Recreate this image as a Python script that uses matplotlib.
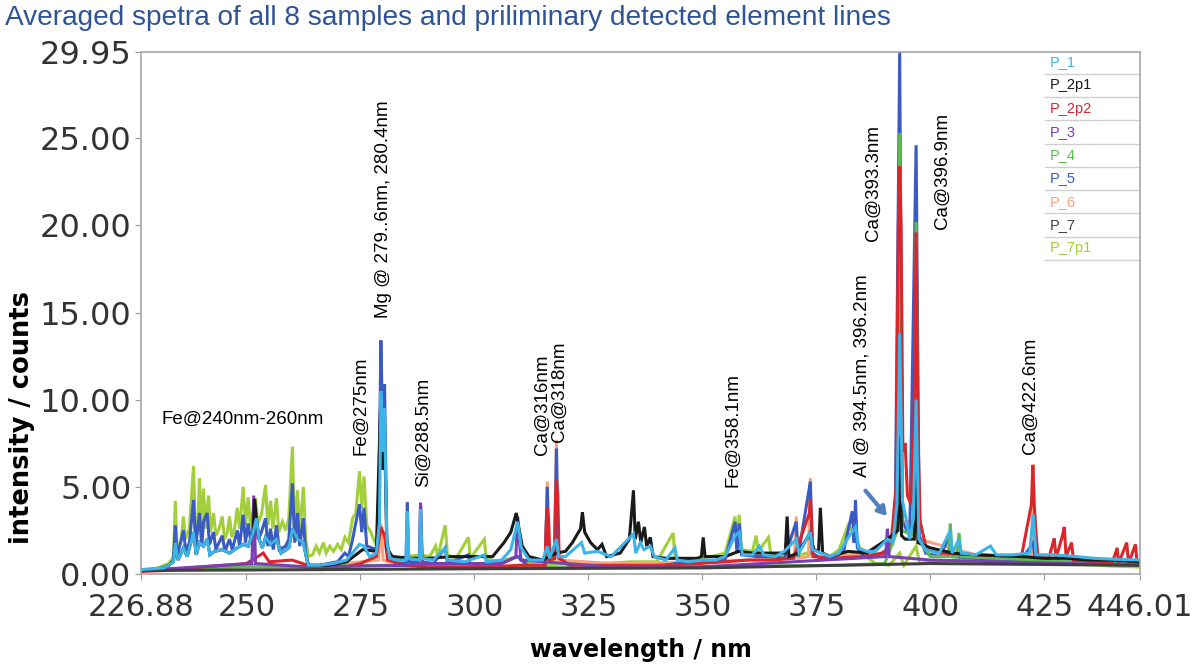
import matplotlib
matplotlib.use("Agg")
import matplotlib.pyplot as plt

# averaged LIBS spectra, wavelength (nm) / intensity (counts) per sample
p7p1_wl = [226.9, 230, 233, 234.0, 234.4, 234.8, 235.6, 236.2, 236.6, 237.5, 238.4, 238.8, 239.4, 239.7,
           240.1, 240.6, 241.0, 241.7, 242.1, 242.8, 243.3, 244.0, 244.7, 245.2, 245.8, 246.3, 246.8,
           247.4, 248.0, 248.5, 249.3, 249.8, 250.4, 250.9, 251.5, 252.0, 252.5, 253.3, 254.2, 254.7,
           255.3, 255.8, 256.6, 257.1, 257.9, 258.6, 259.3, 260.1, 260.5, 261.2, 261.7, 262.5, 263.0,
           263.6, 264.5, 265.3, 266.0, 266.9, 267.5, 268.3, 269.1, 270.0, 270.8, 271.6, 272.4, 273.3,
           274.0, 274.8, 275.3, 275.8, 276.4, 277.3, 278.2, 279.4, 280.3, 281.2, 283, 285.3, 288.2,
           290.2, 291.5, 292, 293.6, 294.1, 296, 298.7, 299.1, 302.2, 302.6, 305, 309.5, 312, 315, 318,
           322, 328, 334.5, 340, 343.6, 344.0, 346, 349, 352, 355, 357.2, 357.6, 358.1, 358.6, 361,
           361.8, 362.3, 364.5, 365, 368, 370, 373, 375, 378, 380, 382, 383.5, 385, 388, 391, 393.3,
           394.2, 396.9, 397.7, 400, 405, 410, 420, 430, 440, 446]
p7p1_int = [0.25, 0.3, 0.6, 1.0, 4.2, 1.5, 1.8, 3.3, 2.0, 2.6, 6.2, 2.5, 3.0, 5.5,
            2.8, 4.9, 2.6, 4.5, 2.4, 3.5, 2.2, 2.6, 3.3, 2.0, 2.4, 3.3, 2.1,
            2.6, 3.8, 2.6, 5.0, 2.8, 4.4, 2.7, 3.6, 4.35, 2.9, 3.4, 5.1, 2.8,
            4.2, 2.6, 4.35, 2.4, 3.0, 2.5, 3.2, 7.3, 2.6, 4.8, 2.4, 5.0, 2.0,
            1.0, 1.1, 1.6, 1.2, 1.8, 1.2, 1.6, 1.3, 1.7, 1.4, 2.1, 1.8, 3.2,
            3.5, 5.9, 3.8, 5.6, 2.8, 2.4, 1.8, 2.3, 2.2, 1.1, 0.9, 1.0, 1.1,
            1.0, 1.6, 1.0, 2.8, 1.1, 0.9, 2.1, 0.9, 2.0, 0.9, 0.7, 1.0, 0.6, 0.5, 0.6,
            0.6, 0.6, 0.7, 0.7, 2.35, 0.9, 0.8, 0.9, 1.0, 1.2, 3.3, 1.6, 3.4, 1.4, 1.3,
            2.2, 1.3, 2.1, 1.2, 1.0, 1.0, 1.2, 1.0, 1.0, 1.4, 2.8, 2.2, 1.2, 0.6, 0.5, 1.2,
            0.5, 1.6, 0.6, 0.7, 0.8, 0.8, 0.7, 0.6, 0.45, 0.4]

p4_wl = [226.9, 250, 280, 300, 340, 380, 390, 392.8, 393.3, 393.8, 396.4, 396.9,
         397.4, 400, 404.0, 404.4, 404.8, 405.9, 406.3, 406.8, 446]
p4_int = [0.2, 0.4, 0.5, 0.4, 0.4, 0.5, 0.6, 2.5, 25.3, 2.5, 2.2, 20.2,
          2.0, 1.0, 1.0, 2.9, 1.0, 1.0, 2.35, 1.0, 0.5]

p6_wl = [226.9, 250, 263.5, 279.0, 279.5, 280.0, 281, 300, 315.6, 316.0, 316.4, 317.6, 318.0, 318.4,
         330, 350, 370.2, 370.6, 371.0, 373.3, 373.7, 374.1, 390, 392.8, 393.3, 393.8, 396.4, 396.9,
         397.4, 410, 422.2, 422.6, 423.0, 446]
p6_int = [0.2, 0.5, 0.4, 0.8, 2.9, 0.8, 0.7, 0.5, 0.5, 5.3, 0.7, 0.7, 7.7, 0.8,
          0.6, 0.7, 0.9, 3.3, 0.9, 1.0, 5.5, 1.0, 1.2, 2.5, 23.6, 3.0, 3.0, 19.8,
          2.0, 1.1, 1.0, 6.3, 1.0, 0.7]

p2p2_wl = [226.9, 232, 236, 240, 245, 250, 252.5, 253.7, 255, 260, 263.5, 266, 270, 275, 278.5,
           279.5, 280.3, 281, 285, 290, 300, 305, 310, 315.5, 315.8, 316.0, 316.3, 316.6, 317.6,
           317.8, 318.0, 318.3, 318.6, 321, 330, 340, 349, 355, 360, 365, 370, 373.5, 373.7, 374.0,
           374.3, 378, 385, 390, 391.5, 392.5, 393.0, 393.3, 393.6, 394.0, 394.5, 395.0, 395.8,
           396.4, 396.9, 397.3, 397.8, 399, 402, 410, 420, 422.2, 422.5, 422.8, 423.2, 423.6, 426,
           427.2, 427.6, 429.0, 429.4, 429.8, 431.0, 431.4, 436, 440, 441.0, 441.3, 443.1, 443.5,
           445.0, 445.4, 446]
p2p2_int = [0.15, 0.2, 0.3, 0.4, 0.5, 0.6, 1.0, 1.2, 0.7, 0.8, 0.5, 0.25, 0.3, 0.6, 1.0,
            2.7, 2.2, 0.8, 0.5, 0.4, 0.4, 0.4, 0.5, 0.5, 3.0, 3.8, 3.0, 0.8, 0.9,
            4.5, 5.4, 4.6, 0.9, 0.5, 0.5, 0.5, 0.6, 0.7, 0.8, 0.8, 0.9, 3.5, 4.3, 3.0,
            1.0, 0.9, 1.0, 1.2, 2.0, 5.0, 20.0, 23.4, 20.0, 7.0, 7.5, 4.5, 4.0,
            8.0, 19.6, 8.0, 3.0, 1.6, 1.2, 1.1, 1.0, 4.0, 6.25, 4.0, 2.4, 1.0, 0.9,
            2.05, 0.9, 2.2, 2.7, 1.0, 1.8, 0.8, 0.7, 0.7, 1.5, 0.6, 1.8, 0.6,
            1.7, 0.6, 0.6]

p3_wl = [226.9, 245, 251.2, 251.6, 252.0, 258, 263.5, 285, 287.9, 288.2, 288.6, 306, 309.1, 309.5,
         310.2, 330, 349, 370, 390.2, 390.6, 391, 400, 446]
p3_int = [0.2, 0.5, 0.6, 4.5, 0.6, 0.5, 0.4, 0.5, 0.6, 4.1, 0.6, 0.6, 1.0, 3.3,
          0.8, 0.4, 0.4, 0.7, 1.0, 2.6, 1.0, 0.8, 0.5]

p2p1_wl = [226.9, 232, 234, 234.4, 235, 236.2, 237, 238.4, 239, 239.7, 240.6, 241.4, 242, 243,
           244.7, 246.3, 248, 249.3, 250.4, 251.5, 251.8, 252.2, 252.8, 253.5, 254.2, 255.3, 256.6,
           257.6, 259.3, 260.1, 261.2, 262.5, 263.2, 263.6,
           268, 272, 275.5, 278.5, 279.5, 279.9, 280.3, 280.8, 282, 286, 290, 295, 300, 304, 306.5,
           308, 309.2, 309.8, 310.5, 312, 315, 318, 320, 321.5, 323.3, 323.7, 324.2, 325.5, 327,
           328, 329, 332, 334.0, 334.9, 335.3, 336.0, 336.5, 337.3, 337.8, 338.6, 339.2, 342, 345,
           349, 349.8, 350.2, 350.6, 355, 358, 361, 364, 368.2, 368.6, 369.0, 371, 373.5, 374.5,
           375.5, 375.9, 376.4, 378, 382, 386, 390.6, 392.9, 393.3, 393.7, 394.5, 396.5, 396.9,
           397.3, 400, 405, 410, 420, 425, 430, 435, 440, 446]
p2p1_int = [0.2, 0.35, 0.7, 1.8, 0.8, 1.5, 1.0, 2.4, 1.1, 1.8, 1.6, 2.0, 1.1, 1.3,
            1.4, 1.2, 1.5, 1.7, 1.6, 2.4, 4.3, 3.2, 2.0, 1.5, 2.1, 1.7, 2.0,
            1.2, 1.5, 2.6, 2.0, 1.8, 0.9, 0.5,
            0.5, 0.7, 1.4, 1.3, 10.4, 6.0, 8.4, 1.5, 1.0, 0.9, 0.9, 1.0, 1.0, 1.0, 1.8,
            2.4, 3.5, 2.6, 1.6, 1.0, 0.8, 1.2, 1.3, 1.8, 2.6, 3.55, 2.4, 1.8, 1.4,
            1.7, 1.0, 1.2, 2.0, 4.8, 2.0, 3.0, 1.8, 2.7, 1.6, 2.1, 1.0, 0.9, 0.9,
            0.9, 1.0, 2.1, 1.0, 1.0, 1.3, 1.2, 1.2, 1.2, 3.3, 1.0, 1.2, 2.3, 1.4,
            1.3, 3.8, 1.2, 1.0, 1.3, 1.2, 2.0, 2.5, 8.0, 2.2, 2.0, 2.0, 6.0,
            1.8, 1.5, 1.2, 1.1, 1.0, 0.9, 0.9, 0.8, 0.8, 0.7]

p7_wl = [226.9, 300, 350, 400, 446]
p7_int = [0.2, 0.3, 0.35, 0.6, 0.5]

p5_wl = [226.9, 231, 233, 234.0, 234.4, 234.8, 236.2, 236.7, 237.5, 238.4, 238.9, 239.7, 240.2,
         240.6, 241.4, 241.9, 242.8, 243.3, 244.7, 245.3, 246.3, 246.9, 248.0, 248.5, 249.3, 249.8,
         250.4, 251.0, 252.0, 252.6, 253.3, 254.2, 254.7, 255.3, 255.9, 256.6, 257.2, 258.6, 259.3,
         260.1, 260.6, 261.2, 261.7, 262.5, 263.0, 263.6, 266, 268, 270, 271.6, 272.4, 273.3,
         274.8, 275.3, 275.8, 276.4, 277.5, 278.5, 279.0, 279.5, 279.9, 280.3, 280.8, 281.5, 283,
         285.0, 285.3, 285.6, 288.0, 288.2, 288.5, 291, 293.6, 294.1, 298.7, 299.1, 302, 305,
         309.5, 312, 315.5, 316.0, 316.4, 317.6, 318.0, 318.4, 321, 328, 335, 340, 344, 349, 355,
         357.2, 357.6, 358.1, 358.6, 362, 365, 368, 370.6, 371, 373.7, 374.1, 376, 379, 381,
         382.9, 383.3, 383.6, 384.0, 385.5, 388, 390.6, 392.3, 393.3, 393.9, 395.5, 396.9, 397.6,
         399, 402, 404.4, 404.8, 410, 420, 422.6, 423, 430, 440, 446]
p5_int = [0.2, 0.25, 0.5, 0.8, 2.8, 1.0, 2.5, 1.3, 1.8, 4.25, 1.6, 3.5, 1.6,
          3.0, 3.5, 1.7, 2.4, 1.4, 2.2, 1.3, 2.0, 1.4, 2.5, 1.6, 3.4, 1.8,
          2.9, 1.8, 3.0, 2.0, 2.4, 3.2, 1.6, 2.6, 1.4, 2.8, 1.4, 1.6, 2.0,
          5.2, 1.8, 3.5, 1.6, 3.2, 1.2, 0.5, 0.5, 0.6, 0.7, 1.2, 1.0, 2.0,
          4.0, 2.4, 3.8, 1.6, 1.5, 1.4, 3.0, 13.4, 8.0, 10.9, 2.0, 0.8, 0.6,
          0.6, 4.1, 0.7, 0.7, 3.95, 0.7, 0.6, 1.5, 0.6, 1.1, 0.5, 0.5, 0.5,
          1.0, 0.4, 0.4, 5.0, 0.8, 0.9, 7.2, 1.0, 0.4, 0.4, 0.4, 0.4, 0.6, 0.6, 0.8,
          3.0, 1.2, 2.9, 1.1, 1.0, 1.0, 0.9, 3.0, 1.0, 5.3, 1.2, 0.9, 1.0, 1.3,
          3.6, 1.8, 4.25, 1.5, 1.0, 1.0, 1.4, 2.5, 29.95, 3.0, 2.2, 24.6, 2.2,
          1.2, 1.0, 2.2, 1.0, 0.9, 0.8, 1.8, 0.8, 0.7, 0.6, 0.55]

p1_wl = [226.9, 232, 234, 234.4, 235, 236.2, 237, 238.4, 239, 239.7, 240.6, 241.4, 242, 243, 244.7,
         246.3, 248, 249.3, 250.4, 251.5, 252.2, 252.8, 253.5, 254.2, 255.3, 256.6, 257.6, 259.3,
         260.1, 261.2, 262.5, 263.2, 263.6, 266, 269, 272, 274.8, 275.8, 277, 278.5, 279.2, 279.5,
         279.9, 280.3, 280.8, 281.5, 283, 285.0, 285.3, 285.6, 288.0, 288.2, 288.5, 291, 293.6,
         294.1, 298, 302.2, 302.6, 306, 308, 309.5, 310.3, 312, 315, 316.0, 316.5, 318.0, 318.5,
         320, 323.5, 324.2, 327, 330, 334.9, 335.4, 336.4, 337.2, 338.6, 339.5, 342, 344.0, 344.5,
         347, 350, 353, 355, 357.2, 358.1, 358.8, 361, 362.5, 363.5, 366, 368, 370.6, 371.2, 373.7,
         374.2, 376, 378, 380, 382.3, 383.6, 384.3, 386, 388, 390.6, 391.8, 392.7, 393.3, 393.9,
         394.6, 395.5, 396.3, 396.9, 397.5, 399, 402, 404.4, 404.8, 406.3, 406.8, 410, 413.2,
         414.5, 418, 421.8, 422.6, 423.2, 427, 432, 436, 440, 446]
p1_int = [0.25, 0.35, 0.7, 1.8, 0.8, 1.5, 1.0, 2.4, 1.1, 1.8, 1.6, 2.0, 1.1, 1.3, 1.4,
          1.2, 1.5, 1.7, 1.6, 2.4, 3.2, 2.0, 1.5, 2.1, 1.7, 2.0, 1.2, 1.5,
          2.6, 2.0, 1.8, 0.9, 0.5, 0.5, 0.6, 0.8, 1.7, 1.6, 1.0, 1.2, 3.0, 10.5,
          7.0, 9.5, 1.8, 0.9, 0.8, 0.8, 3.6, 0.9, 0.8, 3.7, 0.9, 0.8, 1.5,
          0.8, 0.7, 1.1, 0.7, 0.8, 1.4, 3.0, 1.5, 0.8, 0.8, 1.6, 0.9, 2.0, 1.0,
          1.0, 1.8, 1.2, 1.3, 1.0, 2.3, 1.2, 1.8, 1.4, 1.6, 1.0, 0.8, 1.5, 0.8,
          0.7, 0.8, 0.8, 1.0, 2.2, 2.4, 1.1, 1.1, 1.6, 1.1, 1.0, 1.3, 2.0, 1.2, 2.4,
          1.4, 1.2, 1.0, 1.2, 2.2, 2.7, 1.5, 1.3, 1.3, 2.0, 1.8, 4.0, 13.8, 4.2,
          3.3, 2.0, 3.2, 10.0, 2.0, 1.4, 1.2, 2.5, 1.2, 2.0, 1.2, 1.1, 1.6,
          1.1, 1.1, 1.2, 3.4, 1.1, 1.1, 1.0, 0.9, 0.85, 0.8]

sample_names = ["P_1", "P_2p1", "P_2p2", "P_3", "P_4", "P_5", "P_6", "P_7", "P_7p1"]
sample_colors = ["#3db4e8", "#1a1a1a", "#d9262c", "#7b3fb5", "#5cbd4f", "#3a5bc4", "#f7a37c",
                 "#404040", "#a2cf3a"]

# element line annotations: text, wavelength, intensity where the text starts
line_labels = ["Fe@275nm", "Mg @ 279..6nm, 280.4nm", "Si@288.5nm", "Ca@316nm", "Ca@318nm",
               "Fe@358.1nm", "Al @ 394.5nm, 396.2nm", "Ca@393.3nm", "Ca@396.9nm", "Ca@422.6nm"]
line_label_wl = [275.2, 280.0, 288.8, 314.9, 318.6, 356.8, 385.1, 387.5, 402.6, 421.9]
line_label_y = [6.8, 14.7, 5.0, 6.8, 7.55, 5.0, 5.55, 19.1, 19.8, 6.9]

xticks = [226.88, 250, 275, 300, 325, 350, 375, 400, 425, 446.01]
yticks = [0, 5, 10, 15, 20, 25, 29.95]

fig = plt.figure(figsize=(12.02, 6.70), dpi=100)
ax = fig.add_axes([141 / 1202, 1 - 574 / 670, 999 / 1202, 522 / 670])

# draw order: bottom to top
spectra = [
    (p7p1_wl, p7p1_int, 8),
    (p6_wl, p6_int, 6),
    (p5_wl, p5_int, 5),
    (p4_wl, p4_int, 4),
    (p2p2_wl, p2p2_int, 2),
    (p3_wl, p3_int, 3),
    (p2p1_wl, p2p1_int, 1),
    (p7_wl, p7_int, 7),
    (p1_wl, p1_int, 0),
]
for wl, inten, k in spectra:
    ax.plot(wl, inten, color=sample_colors[k], lw=2.2, solid_joinstyle="miter")

ax.set_xlim(226.88, 446.01)
ax.set_ylim(0, 29.95)
ax.set_xticks(xticks)
ax.set_xticklabels(["226.88", "250", "275", "300", "325", "350", "375", "400", "425", "446.01"])
ax.set_yticks(yticks)
ax.set_yticklabels(["0.00", "5.00", "10.00", "15.00", "20.00", "25.00", "29.95"])
ax.tick_params(axis="both", labelcolor="#333333", color="#999999", length=4)
ax.tick_params(axis="x", pad=10, labelsize=22)
ax.tick_params(axis="y", pad=3, labelsize=23)
for s in ax.spines.values():
    s.set_color("#a6a6a6")
    s.set_linewidth(1.2)

ax.set_xlabel("wavelength / nm", fontsize=17, fontweight="bold")
ax.set_ylabel("intensity / counts", fontsize=18.5, fontweight="bold")
ax.xaxis.set_label_coords(0.5, -0.146)
ax.yaxis.label.set_va("center")
ax.xaxis.label.set_va("center")
ax.yaxis.set_label_coords(-0.119, 0.30)

ann_font = ["Liberation Sans", "DejaVu Sans"]
for txt, x, y in zip(line_labels, line_label_wl, line_label_y):
    ax.text(x, y, txt, rotation=90, ha="center", va="bottom", fontsize=13.5, family=ann_font)
ax.text(231.4, 8.9, "Fe@240nm-260nm", ha="left", va="center", fontsize=13.5, family=ann_font)

ax.annotate("", xy=(390.9, 3.2), xytext=(385.4, 4.9),
            arrowprops=dict(arrowstyle="-|>,head_length=0.5,head_width=0.3", color="#4f7fbd", lw=3))

# legend as a list of coloured names with separators
row_h = 23.3 / 522
for i, (name, col) in enumerate(zip(sample_names, sample_colors)):
    yc = (574 - 62) / 522 - i * row_h
    ax.text(0.910, yc, name, transform=ax.transAxes, color=col, fontsize=10.5,
            ha="left", va="center", family=ann_font)
    ysep = yc - row_h / 2
    ax.plot([0.905, 1.0], [ysep, ysep], transform=ax.transAxes, color="#d0d0d0", lw=1,
            clip_on=False)

fig.text(0.004, 1 - 18 / 670, "Averaged spetra of all 8 samples and priliminary detected element lines",
         color="#2f5496", fontsize=20.2, ha="left", va="center", family=ann_font)

fig.savefig("out.png", dpi=100)
